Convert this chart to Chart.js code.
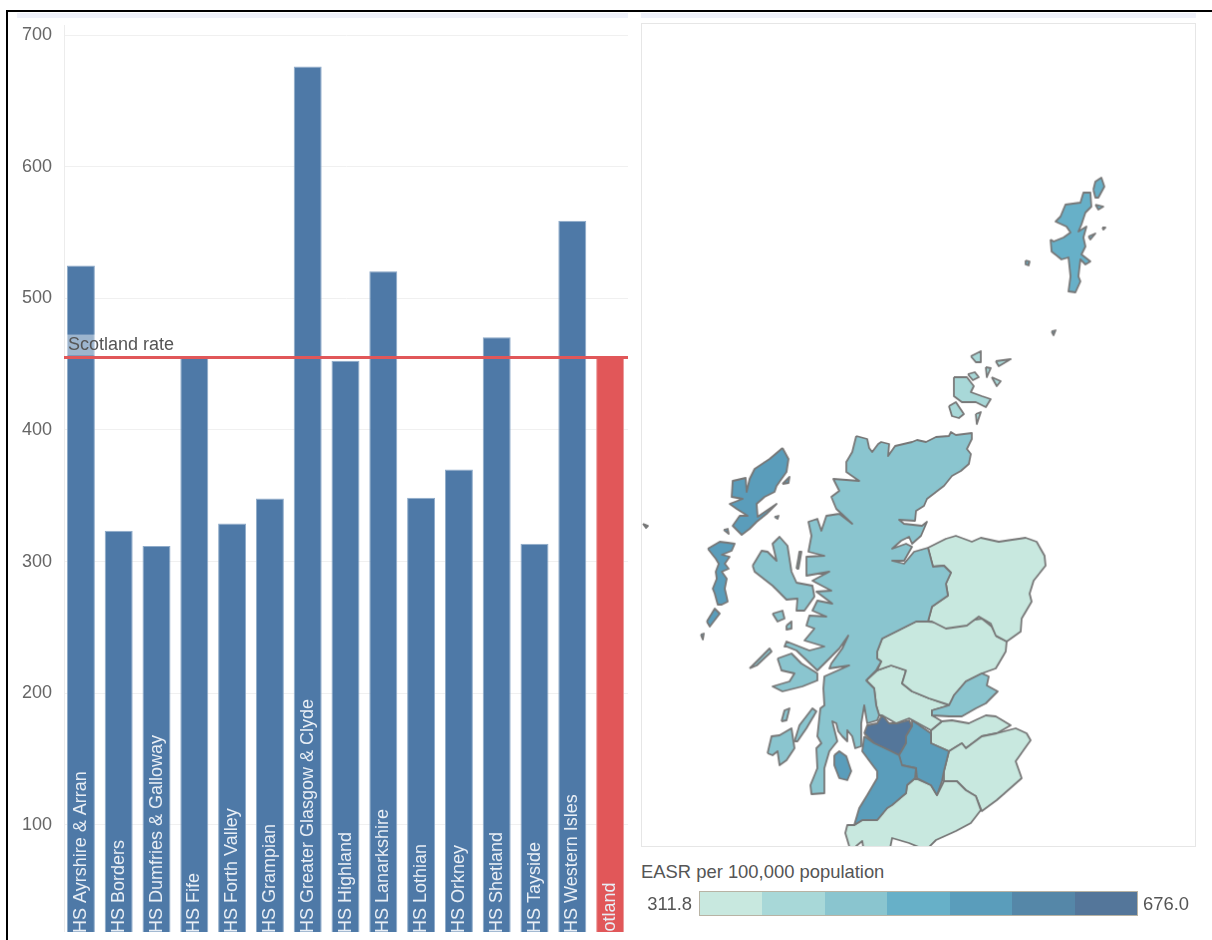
<!DOCTYPE html>
<html>
<head>
<meta charset="utf-8">
<script src="https://cdn.jsdelivr.net/npm/chart.js@4"></script>
<style>
  html, body { margin: 0; padding: 0; background: #fff; overflow: hidden; }
  body { width: 1212px; height: 940px; position: relative; font-family: "Liberation Sans", Arial, sans-serif; }
  .abs { position: absolute; }
  #frameTop { left: 6px; top: 10px; width: 1206px; height: 2px; background: #000; }
  #frameLeft { left: 6px; top: 10px; width: 2px; height: 930px; background: #000; }
  #stripLeft { left: 17px; top: 13px; width: 611px; height: 5px; background: #eff1fa; }
  #stripRight { left: 641px; top: 13px; width: 555px; height: 5px; background: #eff1fa; }
  #barChart { left: 8px; top: 20px; }
  #mapChart { left: 641px; top: 23px; border: 1px solid #e6e6e6; }
  #legendTitle { left: 641px; top: 861px; font-size: 18.4px; color: #555; white-space: nowrap; }
  #legendMin { left: 630px; width: 62px; top: 893px; font-size: 18.4px; color: #555; text-align: right; }
  #legendMax { left: 1143px; top: 893px; font-size: 18.4px; color: #555; }
  #legendRamp { left: 699px; top: 891px; width: 437px; height: 23px; display: flex; border: 1.5px solid #b8b3a4; }
  #legendRamp div { flex: 1; }
</style>
</head>
<body>
<div class="abs" id="frameTop"></div>
<div class="abs" id="frameLeft"></div>
<div class="abs" id="stripLeft"></div>
<div class="abs" id="stripRight"></div>
<canvas class="abs" id="barChart" width="624" height="912"></canvas>
<canvas class="abs" id="mapChart" width="555" height="824"></canvas>
<div class="abs" id="legendTitle">EASR per 100,000 population</div>
<div class="abs" id="legendMin">311.8</div>
<div class="abs" id="legendRamp"></div>
<div class="abs" id="legendMax">676.0</div>

<script>
// Bar chart data
const boards = ['NHS Ayrshire & Arran', 'NHS Borders', 'NHS Dumfries & Galloway', 'NHS Fife', 'NHS Forth Valley',
  'NHS Grampian', 'NHS Greater Glasgow & Clyde', 'NHS Highland', 'NHS Lanarkshire', 'NHS Lothian', 'NHS Orkney',
  'NHS Shetland', 'NHS Tayside', 'NHS Western Isles', 'Scotland'];
const rates = [525, 323.5, 311.8, 455.5, 329, 348, 676, 452.5, 520.5, 348.5, 370, 470.5, 313.5, 559, 455];
const scotlandRate = 455;
const yTicks = [100, 200, 300, 400, 500, 600, 700];

// Legend colours, low to high
const legendColors = ['#c8e8df', '#a8d8d8', '#8ac5cf', '#67b0c8', '#5a9dbb', '#5587a8', '#54769a'];

// Map outlines as [x, y] map units
const highland = [[857,437],[868,440],[870,449],[873,453],[879,445],[882,443],[890,445],[889,457],[896,447],[913,443],[918,441],[927,443],[937,438],[950,437],[952,433],[957,436],[973,434],[973,440],[968,450],[972,455],[970,465],[962,472],[953,477],[945,487],[928,500],[925,507],[917,512],[916,522],[900,521],[905,525],[923,527],[928,523],[922,537],[913,545],[910,538],[902,542],[893,550],[907,545],[913,548],[905,562],[893,562],[905,565],[915,553],[929,549],[934,568],[945,567],[952,574],[947,585],[949,597],[933,608],[929,623],[917,623],[903,630],[883,640],[878,653],[878,660],[882,663],[877,672],[867,682],[875,690],[877,707],[880,717],[878,722],[868,725],[865,707],[862,725],[862,748],[856,750],[853,738],[848,732],[848,743],[843,738],[839,733],[837,725],[833,723],[838,743],[830,753],[825,770],[825,795],[812,796],[811,787],[818,770],[817,750],[822,745],[818,738],[821,710],[825,707],[824,690],[825,678],[850,667],[830,670],[832,665],[843,650],[849,637],[840,650],[818,672],[797,652],[787,648],[785,648],[787,643],[810,652],[825,648],[805,642],[815,630],[807,627],[810,617],[827,618],[813,612],[818,602],[833,605],[817,593],[832,592],[813,582],[830,573],[807,577],[807,558],[825,557],[809,553],[812,537],[809,523],[818,520],[822,532],[827,517],[840,515],[853,525],[837,510],[832,498],[840,492],[834,480],[860,482],[847,473],[847,463],[853,453]];
const skye = [[753,567],[762,552],[768,553],[777,562],[773,545],[780,538],[788,547],[792,573],[797,584],[813,587],[815,598],[805,612],[797,612],[798,600],[787,601],[773,587],[755,573]];
const raasay = [[797,570],[800,553],[802,553],[799,570]];
const rum = [[773,615],[783,612],[785,620],[778,623]];
const eigg = [[787,627],[792,623],[792,630],[787,631]];
const mull = [[778,660],[792,655],[802,665],[818,675],[818,682],[803,688],[783,693],[773,688],[790,683],[795,675],[782,672]];
const coll = [[750,670],[770,650],[772,653],[757,667]];
const jura = [[795,743],[800,727],[813,710],[817,713],[807,730],[798,743]];
const islay = [[768,755],[772,738],[780,737],[792,730],[795,750],[787,762],[780,767],[778,753],[773,757]];
const colonsay = [[782,723],[785,712],[790,710],[787,722]];
const arran = [[835,757],[840,753],[847,758],[852,773],[848,782],[840,780],[835,767]];
const lewis = [[783,449],[789,460],[787,473],[777,487],[775,493],[765,498],[757,505],[758,518],[777,505],[767,515],[757,523],[750,530],[742,536],[733,527],[740,517],[748,517],[737,510],[730,505],[743,500],[732,498],[733,482],[746,479],[747,493],[750,480],[755,470],[770,460]];
const uist = [[708,550],[720,543],[728,544],[735,545],[732,552],[722,556],[730,558],[725,565],[729,570],[722,573],[727,580],[725,590],[728,603],[722,606],[718,606],[715,595],[713,590],[717,580],[716,573],[719,565],[716,560]];
const barra = [[707,623],[715,610],[720,615],[710,628]];
const scalpay = [[783,485],[790,478],[789,484]];
const shiant = [[775,518],[779,517],[778,520]];
const berneray = [[724,531],[728,530],[729,535]];
const mingulay = [[701,636],[704,635],[703,641]];
const stKilda = [[643,525],[648,527],[646,529]];
const shetlandMain = [[1052,240],[1055,242],[1065,238],[1072,233],[1068,227],[1057,222],[1062,217],[1067,205],[1082,203],[1085,193],[1092,193],[1093,207],[1087,213],[1083,225],[1080,232],[1088,227],[1085,238],[1087,247],[1083,255],[1092,262],[1087,265],[1082,260],[1080,277],[1082,282],[1077,293],[1070,292],[1072,277],[1070,258],[1063,260],[1053,252]];
const unst = [[1095,190],[1097,182],[1103,178],[1106,187],[1100,198],[1097,198]];
const fetlar = [[1097,205],[1105,207],[1100,210]];
const whalsay = [[1090,237],[1097,234],[1092,240]];
const skerries = [[1104,228],[1107,228],[1105,230]];
const foula = [[1027,261],[1031,262],[1030,266],[1027,265]];
const fairIsle = [[1053,332],[1057,331],[1055,336]];
const orkneyMain = [[955,378],[968,378],[975,387],[972,393],[983,397],[992,400],[987,408],[977,403],[963,403],[955,397]];
const hoy = [[950,407],[957,403],[965,415],[960,419],[953,417]];
const rousay = [[969,375],[976,373],[980,378],[974,381]];
const westray = [[972,357],[982,352],[982,363],[977,363]];
const sanday = [[997,362],[1012,360],[1000,367]];
const eday = [[987,368],[992,369],[988,378]];
const stronsay = [[993,378],[1002,382],[998,387]];
const ronaldsay = [[977,415],[982,413],[978,425]];
const grampian = [[929,549],[947,540],[957,537],[973,543],[982,539],[1000,543],[1027,539],[1038,543],[1046,557],[1047,567],[1035,582],[1031,595],[1033,603],[1023,620],[1022,633],[1008,643],[997,637],[992,625],[980,618],[968,627],[947,630],[933,623],[929,623],[933,608],[949,597],[947,585],[952,574],[945,567],[934,568]];
const tayside = [[929,623],[950,625],[970,622],[983,620],[993,628],[998,638],[1008,643],[1007,653],[997,670],[983,675],[967,683],[955,697],[952,707],[930,700],[913,693],[903,685],[907,672],[892,667],[878,672],[882,663],[878,660],[878,653],[883,640],[903,630],[917,623]];
const fife = [[983,675],[990,678],[988,687],[999,693],[987,705],[977,710],[963,718],[950,718],[933,717],[933,712],[950,707],[955,697],[967,683]];
const forthValley = [[867,682],[878,672],[892,667],[907,672],[903,685],[913,693],[930,700],[950,707],[933,712],[933,717],[943,723],[932,732],[910,720],[897,725],[883,717],[880,717],[877,707],[875,690]];
const glasgow = [[865,735],[868,727],[878,725],[883,717],[890,725],[898,725],[910,722],[913,728],[907,738],[907,745],[900,757],[890,752],[875,745]];
const lanarkshire = [[913,722],[932,735],[932,745],[950,753],[945,773],[943,783],[938,797],[932,787],[918,780],[917,770],[902,767],[900,757],[907,745],[907,738],[913,728]];
const ayrshire = [[865,738],[875,745],[890,752],[900,757],[903,767],[917,770],[916,780],[908,787],[907,795],[893,807],[888,810],[878,822],[863,822],[855,827],[860,810],[868,797],[878,780],[878,773],[863,753]];
const dumfries = [[878,822],[888,810],[907,795],[908,787],[916,780],[932,787],[938,797],[945,783],[958,783],[967,792],[977,798],[982,812],[972,825],[957,833],[937,842],[927,852],[910,845],[893,840],[890,855],[865,855],[863,843],[857,848],[852,855],[846,835],[848,827],[855,827],[863,822]];
const borders = [[950,753],[963,745],[967,750],[983,738],[998,735],[1017,730],[1028,735],[1032,742],[1017,763],[1023,780],[998,802],[983,813],[977,798],[967,792],[958,783],[945,783],[945,773]];
const lothian = [[932,732],[943,723],[953,722],[970,725],[987,717],[997,718],[1012,727],[998,735],[983,738],[967,750],[963,745],[950,753],[932,745],[932,735]];

// Which colour step each outline falls in
const mapLayers = [
  { color: legendColors[2], shapes: [highland, skye, raasay, rum, eigg, mull, coll, jura, islay, colonsay, fife] },
  { color: legendColors[4], shapes: [lewis, uist, barra, scalpay, shiant, berneray, mingulay, stKilda, arran, ayrshire, lanarkshire] },
  { color: legendColors[3], shapes: [shetlandMain, unst, fetlar, whalsay, skerries, foula, fairIsle] },
  { color: legendColors[1], shapes: [orkneyMain, hoy, rousay, westray, sanday, eday, stronsay, ronaldsay] },
  { color: legendColors[0], shapes: [grampian, tayside, forthValley, dumfries, borders, lothian] },
  { color: legendColors[6], shapes: [glasgow] }
];

const BAR_BLUE = '#4e79a7';
const BAR_RED = '#e15759';
const GREY_TEXT = '#666';

// Bars run a touch wider than the gridlines in the original
const widenBarsPlugin = {
  id: 'widenBars',
  afterLayout(chart) {
    const x = chart.scales.x;
    x.left -= 2;
    x.right += 1;
    x.width += 3;
    x.configure();
  }
};

// Labels sit inside the bars and are cut off by the bottom of the plot
const barLabelsPlugin = {
  id: 'barLabels',
  afterDatasetsDraw(chart) {
    const { ctx, chartArea } = chart;
    const bars = chart.getDatasetMeta(0).data;
    ctx.save();
    ctx.beginPath();
    ctx.rect(chartArea.left, chartArea.top, chartArea.right - chartArea.left, chartArea.bottom - chartArea.top);
    ctx.clip();
    ctx.font = '18px "Liberation Sans", Arial, sans-serif';
    ctx.fillStyle = '#e8eef5';
    bars.forEach((bar, i) => {
      const hidden = boards[i] === 'Scotland' ? 20.5 : 14;
      ctx.save();
      ctx.translate(bar.x + 5, chartArea.bottom + hidden);
      ctx.rotate(-Math.PI / 2);
      ctx.fillText(boards[i], 0, 0);
      ctx.restore();
    });
    ctx.restore();

    // "Scotland rate" caption with its pale box
    const y = chart.scales.y.getPixelForValue(scotlandRate);
    ctx.save();
    ctx.fillStyle = 'rgba(255,255,255,0.45)';
    ctx.fillRect(chartArea.left + 3, y - 23, 112, 21);
    ctx.font = '18px "Liberation Sans", Arial, sans-serif';
    ctx.fillStyle = '#555';
    ctx.fillText('Scotland rate', chartArea.left + 4, y - 8);
    ctx.restore();
  }
};

new Chart(document.getElementById('barChart'), {
  type: 'bar',
  data: {
    labels: boards,
    datasets: [
      {
        data: rates,
        backgroundColor: boards.map(b => b === 'Scotland' ? BAR_RED : BAR_BLUE),
        borderColor: boards.map(b => b === 'Scotland' ? '#ea9a9b' : '#8fabc9'),
        borderWidth: 1,
        barPercentage: 0.74,
        categoryPercentage: 1,
        grouped: false,
        order: 2
      },
      {
        type: 'line',
        xAxisID: 'xRate',
        data: [{ x: 0, y: scotlandRate }, { x: 1, y: scotlandRate }],
        borderColor: BAR_RED,
        borderWidth: 3,
        pointRadius: 0,
        order: 1
      }
    ]
  },
  options: {
    responsive: false,
    animation: false,
    layout: { padding: { top: 5, right: 4, bottom: 0, left: 0 } },
    plugins: { legend: { display: false }, tooltip: { enabled: false } },
    scales: {
      x: { display: false, grid: { display: false } },
      xRate: { type: 'linear', display: false, min: 0, max: 1, offset: false },
      y: {
        min: 18.7,
        max: 707.6,
        afterBuildTicks: scale => { scale.ticks = yTicks.map(v => ({ value: v })); },
        afterFit: scale => {
          scale.width = 56;
          scale.paddingTop = 0;
          scale.paddingBottom = 0;
        },
        grid: { color: '#f0f0f0', drawTicks: false },
        border: { color: '#ececec' },
        ticks: {
          color: GREY_TEXT,
          padding: 12,
          font: { family: '"Liberation Sans", Arial, sans-serif', size: 18 }
        }
      }
    }
  },
  plugins: [widenBarsPlugin, barLabelsPlugin]
});

// Map is a line chart of closed outlines on plain linear scales
const closed = pts => pts.concat([pts[0]]).map(([x, y]) => ({ x, y }));
const mapDatasets = [];
mapLayers.forEach(layer => {
  layer.shapes.forEach(shape => {
    mapDatasets.push({
      data: closed(shape),
      fill: 'shape',
      backgroundColor: layer.color,
      borderColor: '#777',
      borderWidth: 1.8,
      borderJoinStyle: 'round',
      pointRadius: 0,
      tension: 0
    });
  });
});

new Chart(document.getElementById('mapChart'), {
  type: 'line',
  data: { datasets: mapDatasets },
  options: {
    responsive: false,
    animation: false,
    layout: { padding: 0 },
    plugins: { legend: { display: false }, tooltip: { enabled: false } },
    scales: {
      x: { type: 'linear', display: false, min: 642, max: 1197 },
      y: { type: 'linear', display: false, min: 24, max: 848, reverse: true }
    }
  }
});

// Colour ramp under the map
const ramp = document.getElementById('legendRamp');
legendColors.forEach(c => {
  const cell = document.createElement('div');
  cell.style.background = c;
  ramp.appendChild(cell);
});
</script>
</body>
</html>
